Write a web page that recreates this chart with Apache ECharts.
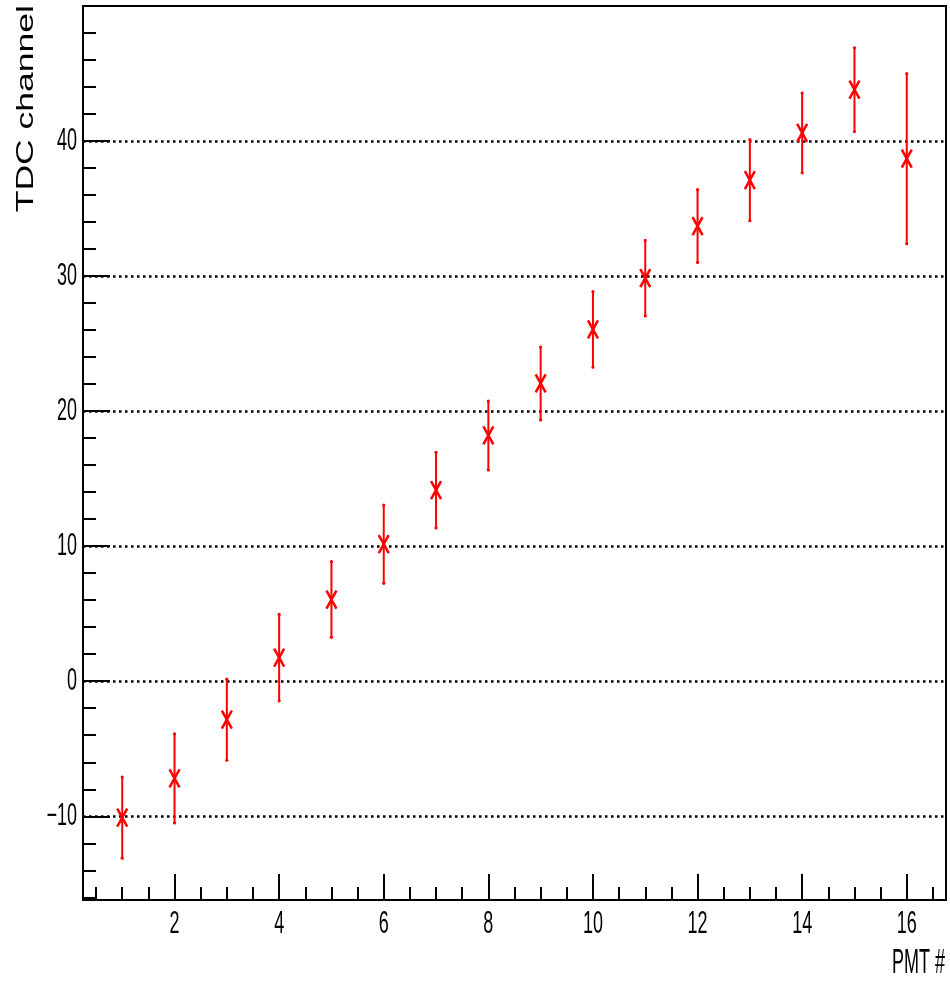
<!DOCTYPE html>
<html>
<head>
<meta charset="utf-8">
<script src="https://cdn.jsdelivr.net/npm/echarts@6/dist/echarts.min.js"></script>
<style>
html,body{margin:0;padding:0;background:#fff;}
#chart{width:950px;height:981px;}
</style>
</head>
<body>
<div id="chart"></div>
<script>
// ---- data ----
const pmt = [1, 2, 3, 4, 5, 6, 7, 8, 9, 10, 11, 12, 13, 14, 15, 16];
const tdc = [-10.1, -7.2, -2.85, 1.75, 6.05, 10.15, 14.15, 18.2, 22.05, 26.05, 29.85, 33.7, 37.1, 40.6, 43.8, 38.7];
const tdcErr = [3.0, 3.3, 3.0, 3.2, 2.8, 2.9, 2.8, 2.55, 2.7, 2.8, 2.8, 2.7, 3.0, 2.95, 3.1, 6.3];
const xMajorTicks = [2, 4, 6, 8, 10, 12, 14, 16];
const xMinorTicks = [0.5, 1, 1.5, 2.5, 3, 3.5, 4.5, 5, 5.5, 6.5, 7, 7.5, 8.5, 9, 9.5, 10.5, 11, 11.5, 12.5, 13, 13.5, 14.5, 15, 15.5, 16.5];
const yMajorTicks = [-10, 0, 10, 20, 30, 40];
const yMinorTicks = [-16, -14, -12, -8, -6, -4, -2, 2, 4, 6, 8, 12, 14, 16, 18, 22, 24, 26, 28, 32, 34, 36, 38, 42, 44, 46, 48];
const xTitle = 'PMT #';
const yTitle = 'TDC channel';

const X_MIN = 0.25, X_MAX = 16.75, Y_MIN = -16.2, Y_MAX = 50;
const FONT = '"Liberation Sans", Arial, sans-serif';
const LABEL_FONT_SIZE = 18;
const LABEL_STRETCH = 1.72;

const chart = echarts.init(document.getElementById('chart'), null, {renderer: 'canvas'});

function fmt(v) { return String(v).replace('-', '\u2212'); }

function renderPoint(params, api) {
  const x = api.value(0), y = api.value(1), e = api.value(2);
  const c = api.coord([x, y]);
  const t = api.coord([x, y + e]);
  const b = api.coord([x, y - e]);
  const red = '#ff0000';
  return {
    type: 'group',
    children: [
      {type: 'line', shape: {x1: t[0], y1: t[1], x2: b[0], y2: b[1]}, style: {stroke: red, lineWidth: 2}},
      {type: 'circle', shape: {cx: t[0], cy: t[1], r: 1.6}, style: {fill: red}},
      {type: 'circle', shape: {cx: b[0], cy: b[1], r: 1.6}, style: {fill: red}},
      {type: 'line', shape: {x1: c[0] - 5, y1: c[1] - 9, x2: c[0] + 5, y2: c[1] + 9}, style: {stroke: red, lineWidth: 2.5}},
      {type: 'line', shape: {x1: c[0] + 5, y1: c[1] - 9, x2: c[0] - 5, y2: c[1] + 9}, style: {stroke: red, lineWidth: 2.5}}
    ]
  };
}

// tick labels drawn at the positions given by the axis scales
function renderXLabel(params, api) {
  const v = api.value(0);
  const p = api.coord([v, Y_MIN]);
  return {
    type: 'text', x: p[0], y: p[1] + 24.5, scaleY: LABEL_STRETCH,
    style: {text: fmt(v), fill: '#000', font: LABEL_FONT_SIZE + 'px ' + FONT, align: 'center', verticalAlign: 'middle'}
  };
}
function renderYLabel(params, api) {
  const v = api.value(1);
  const p = api.coord([X_MIN, v]);
  return {
    type: 'text', x: p[0] - 6, y: p[1], scaleY: LABEL_STRETCH,
    style: {text: fmt(v), fill: '#000', font: LABEL_FONT_SIZE + 'px ' + FONT, align: 'right', verticalAlign: 'middle'}
  };
}

const option = {
  animation: false,
  backgroundColor: '#fff',
  grid: {left: 83, top: 6, width: 863, height: 894, show: true, borderColor: '#000', borderWidth: 2, backgroundColor: 'transparent', containLabel: false},
  xAxis: [
    {
      type: 'value', min: X_MIN, max: X_MAX, position: 'bottom',
      axisLine: {show: true, onZero: false, lineStyle: {color: '#000', width: 2}},
      axisTick: {show: true, inside: true, length: 26, customValues: xMajorTicks, lineStyle: {color: '#000', width: 2}},
      axisLabel: {show: false, customValues: xMajorTicks},
      splitLine: {show: false}
    },
    {
      type: 'value', min: X_MIN, max: X_MAX, position: 'bottom',
      axisLine: {show: false, onZero: false},
      axisTick: {show: true, inside: true, length: 13, customValues: xMinorTicks, lineStyle: {color: '#000', width: 2}},
      axisLabel: {show: false},
      splitLine: {show: false}
    }
  ],
  yAxis: [
    {
      type: 'value', min: Y_MIN, max: Y_MAX, position: 'left',
      axisLine: {show: true, onZero: false, lineStyle: {color: '#000', width: 2}},
      axisTick: {show: true, inside: true, length: 27, customValues: yMajorTicks, lineStyle: {color: '#000', width: 2}},
      axisLabel: {show: false, customValues: yMajorTicks},
      splitLine: {show: true, lineStyle: {color: '#000', width: 2.5, type: [2.5, 3.5]}}
    },
    {
      type: 'value', min: Y_MIN, max: Y_MAX, position: 'left',
      axisLine: {show: false, onZero: false},
      axisTick: {show: true, inside: true, length: 13, customValues: yMinorTicks, lineStyle: {color: '#000', width: 2}},
      axisLabel: {show: false},
      splitLine: {show: false}
    }
  ],
  graphic: [
    {type: 'text', x: 945, y: 964, scaleY: 1.9, style: {text: xTitle, fill: '#000', font: '18px ' + FONT, align: 'right', verticalAlign: 'middle'}},
    {type: 'text', x: 26, y: 5, rotation: Math.PI / 2, scaleX: 1.48, style: {text: yTitle, fill: '#000', font: '24px ' + FONT, align: 'right', verticalAlign: 'middle'}}
  ],
  series: [
    {
      type: 'custom', xAxisIndex: 0, yAxisIndex: 0,
      renderItem: renderPoint,
      encode: {x: 0, y: 1},
      data: pmt.map((p, i) => [p, tdc[i], tdcErr[i]]),
      z: 10
    },
    {
      type: 'custom', xAxisIndex: 0, yAxisIndex: 0, clip: false, silent: true,
      renderItem: renderXLabel,
      encode: {x: 0, y: 1},
      data: xMajorTicks.map(v => [v, Y_MIN]),
      z: 5
    },
    {
      type: 'custom', xAxisIndex: 0, yAxisIndex: 0, clip: false, silent: true,
      renderItem: renderYLabel,
      encode: {x: 0, y: 1},
      data: yMajorTicks.map(v => [X_MIN, v]),
      z: 5
    }
  ]
};
chart.setOption(option);
</script>
</body>
</html>
